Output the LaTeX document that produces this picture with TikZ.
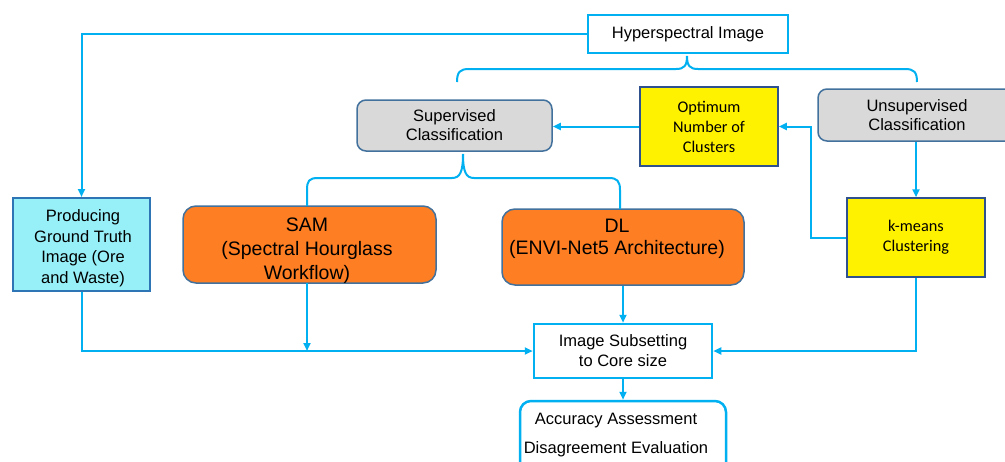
\documentclass[tikz,border=0pt]{standalone}
\usepackage{fontspec}
\setmainfont{Liberation Sans}
\newfontfamily\calib{Carlito}
\usetikzlibrary{arrows.meta}
\definecolor{lb}{HTML}{00B0F0}
\definecolor{bgray}{HTML}{41719C}
\definecolor{dkb}{HTML}{2F528F}
\definecolor{grayf}{HTML}{D9D9D9}
\definecolor{orangef}{HTML}{FD7E23}
\definecolor{cyanf}{HTML}{97F0F8}
\definecolor{prodb}{HTML}{2E75B6}
\begin{document}
\begin{tikzpicture}[x=1pt,y=-1pt,
  conn/.style={draw=lb,line width=2pt},
  arr/.style={-{Triangle[length=8pt,width=7pt]}},
  bluebox/.style={draw=lb,line width=2.5pt,fill=white,inner sep=0pt},
  graybox/.style={draw=bgray,line width=1.5pt,fill=grayf,rounded corners=9pt,inner sep=0pt,align=center,font=\fontsize{16.5}{19}\selectfont},
  yelbox/.style={draw=dkb,line width=1.5pt,fill=yellow,inner sep=0pt,align=center,font=\calib\fontsize{16.3}{20}\selectfont},
  orbox/.style={draw=bgray,line width=1.5pt,fill=orangef,rounded corners=13pt,inner sep=0pt},
  bigtxt/.style={align=center,inner sep=0pt,font=\fontsize{19.5}{23}\selectfont},
  midtxt/.style={align=center,inner sep=0pt,font=\fontsize{16.5}{20.5}\selectfont}]
\useasboundingbox (0,0) rectangle (1005,461);
\clip (0,0) rectangle (1005,461);

% nodes
\node[bluebox,minimum width=200pt,minimum height=38pt,font=\fontsize{16.5}{20}\selectfont] (hyp) at (688,34) {Hyperspectral Image};
\node[graybox,minimum width=195pt,minimum height=51pt] (sup) at (454.5,125.5) {Supervised\\Classification};
\node[yelbox,minimum width=138pt,minimum height=79pt] (opt) at (709,126.5) {Optimum\\Number of\\Clusters};
\node[graybox,minimum width=198pt,minimum height=52pt] (uns) at (917,115) {Unsupervised\\Classification};
\node[yelbox,minimum width=138pt,minimum height=79pt] (km) at (916,237.5) {k-means\\Clustering};
\node[draw=prodb,line width=2pt,fill=cyanf,minimum width=137pt,minimum height=93pt,inner sep=0pt] (prod) at (81.5,244.5) {};
\node[midtxt] (prodtxt) at (83,248) {Producing\\Ground Truth\\Image (Ore\\and Waste)};
\node[orbox,minimum width=253pt,minimum height=77pt] (sam) at (309.5,244.5) {};
\node[bigtxt,font=\fontsize{19.5}{24}\selectfont] (samtxt) at (307,251) {SAM\\(Spectral Hourglass\\Workflow)};
\node[orbox,minimum width=242pt,minimum height=76pt] (dl) at (623,247) {};
\node[bigtxt,font=\fontsize{19.5}{22}\selectfont] (dltxt) at (617,239) {DL\\(ENVI-Net5 Architecture)};
\node[bluebox,minimum width=178pt,minimum height=54pt,align=center,font=\fontsize{16.5}{20}\selectfont] (img) at (623,351) {Image Subsetting\\to Core size};
\node[bluebox,rounded corners=11pt,minimum width=206pt,minimum height=74pt] (acc) at (623,438) {};
\node[midtxt,font=\fontsize{16.5}{28.5}\selectfont] (acctxt) at (616,435) {Accuracy Assessment\\Disagreement Evaluation};

% braces
\coordinate (b1) at (687,56);
\draw[conn] (b1) .. controls (687,66) and (684,69) .. (676,69) -- (469,69)
  .. controls (460,69) and (457,72) .. (457,82);
\draw[conn] (b1) .. controls (687,66) and (690,69) .. (698,69) -- (905,69)
  .. controls (914,69) and (917,72) .. (917,82);
\coordinate (b2) at (463,154);
\draw[conn] (b2) .. controls (463,172) and (460,178) .. (452,178) -- (318,178)
  .. controls (309,178) and (307,181) .. (307,190) -- (307,206);
\draw[conn] (b2) .. controls (463,172) and (466,178) .. (474,178) -- (609,178)
  .. controls (617,178) and (620,181) .. (620,190) -- (620,209);

% connectors
\draw[conn,arr] (hyp.west) -| (prod.north);
\draw[conn,arr] (opt.west) -- (opt.west -| sup.east);
\draw[conn,arr] (km.north |- uns.south) -- (km.north);
\draw[conn,arr] (km.west) -- ++(-35,0) |- (opt.east);
\draw[conn,arr] (prod.south) |- (img.west);
\draw[conn,arr] (307,283) -- (307,351);
\draw[conn,arr] (dl.south) -- (img.north);
\draw[conn,arr] (km.south) |- (img.east);
\draw[conn,arr] (img.south) -- (acc.north);
\end{tikzpicture}
\end{document}
